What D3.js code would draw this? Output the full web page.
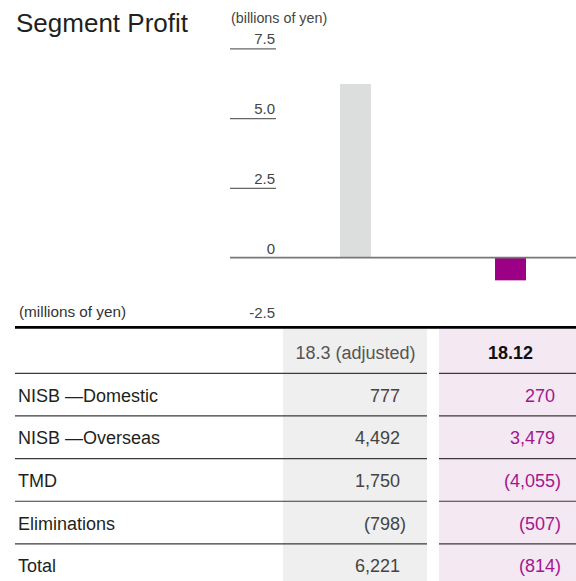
<!DOCTYPE html>
<html>
<head>
<meta charset="utf-8">
<script src="https://cdn.jsdelivr.net/npm/d3@7"></script>
<style>
  html, body { margin: 0; padding: 0; background: #fff; }
  svg { display: block; font-family: "Liberation Sans", Arial, Helvetica, sans-serif; }
</style>
</head>
<body>
<svg id="chart" width="576" height="581"></svg>
<script>
// Segment profit by period (millions of yen)
const periods = ["18.3 (adjusted)", "18.12"];
const segments = ["NISB \u2014Domestic", "NISB \u2014Overseas", "TMD", "Eliminations", "Total"];
const prevValues = [777, 4492, 1750, -798, 6221];
const currValues = [270, 3479, -4055, -507, -814];
const axisTicks = [7.5, 5.0, 2.5, 0, -2.5];
const axisTickLabels = ["7.5", "5.0", "2.5", "0", "-2.5"];

// Bars show the Total row in billions of yen
const barValues = [prevValues[4] / 1000, currValues[4] / 1000];
const periodColumns = [prevValues, currValues];

const svg = d3.select("#chart");

const colGray = "#dcdddd";
const colPurple = "#9c0084";
const colPinkText = "#a3168e";
const colText = "#231f20";
const tableFont = 18;

// Scales
const y = d3.scaleLinear().domain([-2.5, 7.5]).range([327.4, 48.3]);
const x = d3.scaleBand().domain(periods).range([278, 588]).padding(0);
const barW = 31;

// Column backgrounds for the table
const colBg = [
  { x0: 283, x1: 427, fill: "#efefef" },
  { x0: 439, x1: 576, fill: "#f4e9f2" }
];
svg.selectAll("rect.colbg").data(colBg).join("rect")
  .attr("class", "colbg")
  .attr("x", d => d.x0).attr("width", d => d.x1 - d.x0)
  .attr("y", 329).attr("height", 581 - 329)
  .attr("fill", d => d.fill);

// Title and unit labels
svg.append("text").attr("x", 16).attr("y", 32)
  .attr("font-size", 26).attr("fill", colText).text("Segment Profit");
svg.append("text").attr("x", 231).attr("y", 23)
  .attr("font-size", 14.3).attr("fill", "#444").text("(billions of yen)");
svg.append("text").attr("x", 19).attr("y", 316.5)
  .attr("font-size", 15.3).attr("fill", "#333").text("(millions of yen)");

// Y axis: short rules under each value label
const axis = d3.axisLeft(y)
  .tickValues(axisTicks)
  .tickFormat((d, i) => axisTickLabels[i])
  .tickSize(46);
const gAxis = svg.append("g").attr("transform", "translate(276,0)").call(axis);
gAxis.select(".domain").remove();
gAxis.selectAll(".tick line")
  .attr("stroke", "#666").attr("stroke-width", 1.3)
  .attr("opacity", d => (d === 0 || d === -2.5) ? 0 : 1);
gAxis.selectAll(".tick text")
  .attr("x", -1).attr("dy", d => d === -2.5 ? -9.5 : -4.6)
  .attr("text-anchor", "end")
  .attr("font-size", 15)
  .attr("font-family", "Liberation Sans, Arial, sans-serif")
  .attr("fill", "#444");

// Bars
svg.selectAll("rect.bar").data(periods).join("rect")
  .attr("class", "bar")
  .attr("x", d => x(d) + x.bandwidth() / 2 - barW / 2)
  .attr("width", barW)
  .attr("y", (d, i) => Math.min(y(barValues[i]), y(0)))
  .attr("height", (d, i) => Math.abs(y(barValues[i]) - y(0)))
  .attr("fill", (d, i) => i === 0 ? colGray : colPurple);

// Zero baseline
svg.append("line")
  .attr("x1", 230).attr("x2", 576)
  .attr("y1", y(0)).attr("y2", y(0))
  .attr("stroke", "#777").attr("stroke-width", 1.6);

// Table top rule
svg.append("line")
  .attr("x1", 15).attr("x2", 576)
  .attr("y1", y(-2.5)).attr("y2", y(-2.5))
  .attr("stroke", "#000").attr("stroke-width", 2.6);

// Table header
const headerBase = 359;
svg.selectAll("text.head").data(periods).join("text")
  .attr("class", "head")
  .attr("x", d => x(d) + x.bandwidth() / 2)
  .attr("y", headerBase)
  .attr("text-anchor", "middle")
  .attr("font-size", tableFont)
  .attr("font-weight", (d, i) => i === 1 ? "bold" : "normal")
  .attr("fill", (d, i) => i === 1 ? "#111" : "#555")
  .text(d => d);

// Rows
const rowTop = 373.3;
const rowH = 42.65;
const ruleYs = d3.range(segments.length).map(i => rowTop + i * rowH);

// Row rules, split at the gap between the two period columns
const ruleSegs = [];
ruleYs.forEach(ry => {
  ruleSegs.push({ y: ry, x1: 15, x2: 427 });
  ruleSegs.push({ y: ry, x1: 439, x2: 576 });
});
svg.selectAll("line.rule").data(ruleSegs).join("line")
  .attr("class", "rule")
  .attr("x1", d => d.x1).attr("x2", d => d.x2)
  .attr("y1", d => d.y).attr("y2", d => d.y)
  .attr("stroke", "#3a3a3a").attr("stroke-width", 1.2);

// Row labels
svg.selectAll("text.seg").data(segments).join("text")
  .attr("class", "seg")
  .attr("x", 18)
  .attr("y", (d, i) => rowTop + i * rowH + rowH / 2 + 7)
  .attr("font-size", tableFont)
  .attr("fill", colText)
  .text(d => d);

// Values: digits right-aligned, closing parenthesis hangs past the edge
const fmt = d3.format(",");
const valueRight = [400, 555];
periodColumns.forEach((vals, c) => {
  const g = svg.append("g");
  const fill = c === 0 ? "#444" : colPinkText;
  vals.forEach((v, i) => {
    const by = rowTop + i * rowH + rowH / 2 + 7;
    g.append("text")
      .attr("x", valueRight[c]).attr("y", by)
      .attr("text-anchor", "end")
      .attr("font-size", tableFont)
      .attr("fill", fill)
      .text(v < 0 ? "(" + fmt(-v) : fmt(v));
    if (v < 0) {
      g.append("text")
        .attr("x", valueRight[c]).attr("y", by)
        .attr("font-size", tableFont)
        .attr("fill", fill)
        .text(")");
    }
  });
});
</script>
</body>
</html>
